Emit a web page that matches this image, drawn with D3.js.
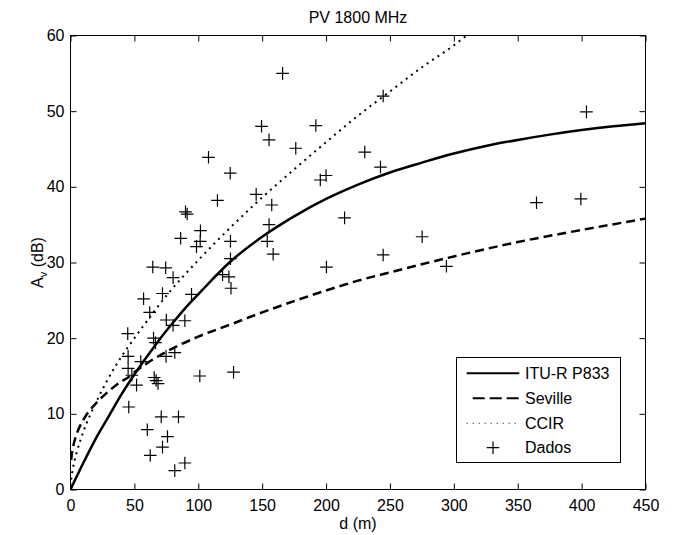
<!DOCTYPE html>
<html>
<head>
<meta charset="utf-8">
<script src="https://cdn.jsdelivr.net/npm/d3@7"></script>
<style>
  html, body { margin: 0; padding: 0; background: #fff; }
  svg { display: block; }
  text { font-family: "Liberation Sans", Arial, sans-serif; fill: #000; }
</style>
</head>
<body>
<svg id="chart" width="675" height="535"></svg>
<script>
// ---- data ----
const title = "PV 1800 MHz";
const xTicks = [0, 50, 100, 150, 200, 250, 300, 350, 400, 450];
const yTicks = [0, 10, 20, 30, 40, 50, 60];
const legendLabels = ["ITU-R P833", "Seville", "CCIR", "Dados"];

const ituD = [0, 10, 20, 30, 40, 50, 60, 70, 80, 90, 100, 125, 150, 175, 200, 225, 250, 275, 300, 325, 350, 375, 400, 425, 450];
const ituA = [0, 3.5, 6.8, 9.7, 12.6, 15.2, 17.6, 19.9, 22.0, 24.0, 25.8, 30.1, 33.4, 36.1, 38.4, 40.3, 41.9, 43.2, 44.4, 45.4, 46.2, 46.9, 47.5, 48.0, 48.4];

const sevD = [0.5, 1, 2, 5, 10, 20, 30, 40, 45, 50, 60, 75, 100, 125, 150, 175, 200, 225, 250, 300, 350, 400, 450];
const sevA = [3.9, 4.6, 5.6, 7.4, 9.2, 11.4, 13.0, 14.3, 14.8, 15.5, 16.7, 18.2, 20.2, 21.8, 23.4, 24.9, 26.3, 27.6, 28.7, 30.8, 32.7, 34.3, 35.8];

const ccirD = [0.5, 1, 2, 5, 10, 20, 30, 40, 50, 60, 75, 100, 125, 150, 175, 200, 225, 250, 275, 300, 310];
const ccirA = [1.3, 1.9, 2.9, 5.0, 7.6, 11.5, 14.8, 17.6, 20.0, 22.3, 25.6, 30.3, 34.6, 38.6, 42.3, 45.9, 49.4, 52.6, 55.8, 58.7, 60.0];

const dadosD = [166, 149.5, 192, 155.4, 176.3, 108, 125, 195.5, 200, 145.3, 115, 157.5, 214.5, 90, 91.3, 155.4, 86.2, 101.7, 101.5, 98.6,
                125.2, 154, 158.6, 125.2, 200.3, 64.4, 74.5, 80.3, 119, 124, 125.6, 57.2, 72, 94.7, 62, 44.8, 65, 66.5, 75, 89.5,
                80.3, 45.1, 74.8, 81.6, 45.1, 55, 48, 51.7, 65.5, 67, 68.5, 101.2, 127.6, 45.6, 71, 84.5, 60.1, 75.9, 72, 62.4,
                89.5, 81.6, 244.7, 230.3, 242.6, 403.8, 364.7, 399.4, 275.2, 244.7, 294.2];
const dadosA = [55.0, 48.0, 48.1, 46.2, 45.1, 43.9, 41.8, 40.9, 41.5, 39.0, 38.2, 37.6, 35.9, 36.7, 36.4, 35.0, 33.2, 34.2, 32.8, 32.1,
                32.8, 32.8, 31.1, 30.5, 29.4, 29.4, 29.3, 28.0, 28.4, 28.1, 26.6, 25.2, 25.9, 25.8, 23.4, 20.6, 20.0, 19.4, 22.4, 22.3,
                21.7, 17.6, 17.6, 18.1, 16.0, 16.9, 15.1, 13.8, 14.8, 14.4, 14.0, 15.0, 15.5, 10.9, 9.6, 9.6, 7.9, 7.0, 5.6, 4.5,
                3.5, 2.5, 52.0, 44.6, 42.6, 49.9, 37.9, 38.4, 33.4, 31.0, 29.5];

// ---- layout ----
const svg = d3.select("#chart");
const L = 70.5, R = 645.5, T = 35.5, B = 489.5;
const x = d3.scaleLinear().domain([0, 450]).range([L, R]);
const y = d3.scaleLinear().domain([0, 60]).range([B, T]);
const FS = 16;

svg.append("rect").attr("width", 675).attr("height", 535).attr("fill", "#fff");

svg.append("defs").append("clipPath").attr("id", "plotclip")
  .append("rect").attr("x", L).attr("y", T).attr("width", R - L).attr("height", B - T);

// axes
const ax = (g) => { g.select(".domain").remove(); g.selectAll("line").attr("stroke", "#000"); g.selectAll("text").attr("font-size", FS).attr("font-family", '"Liberation Sans", Arial, sans-serif'); };

svg.append("g").attr("transform", `translate(0,${B})`)
  .call(d3.axisBottom(x).tickValues(xTicks).tickSizeInner(-6).tickSizeOuter(0).tickPadding(10).tickFormat(d3.format("d")))
  .call(ax);
svg.append("g").attr("transform", `translate(0,${T})`)
  .call(d3.axisTop(x).tickValues(xTicks).tickSizeInner(-6).tickSizeOuter(0).tickFormat(""))
  .call(ax);
svg.append("g").attr("transform", `translate(${L},0)`)
  .call(d3.axisLeft(y).tickValues(yTicks).tickSizeInner(-6).tickSizeOuter(0).tickPadding(6).tickFormat(d3.format("d")))
  .call(ax);
svg.append("g").attr("transform", `translate(${R},0)`)
  .call(d3.axisRight(y).tickValues(yTicks).tickSizeInner(-6).tickSizeOuter(0).tickFormat(""))
  .call(ax);

// lines
const plot = svg.append("g").attr("clip-path", "url(#plotclip)");
const line = d3.line().x(d => x(d[0])).y(d => y(d[1])).curve(d3.curveMonotoneX);

plot.append("path").datum(d3.zip(ituD, ituA)).attr("d", line)
  .attr("fill", "none").attr("stroke", "#000").attr("stroke-width", 2.5);
plot.append("path").datum(d3.zip(sevD, sevA)).attr("d", line)
  .attr("fill", "none").attr("stroke", "#000").attr("stroke-width", 2.5).attr("stroke-dasharray", "9,5");
plot.append("path").datum(d3.zip(ccirD, ccirA)).attr("d", line)
  .attr("fill", "none").attr("stroke", "#000").attr("stroke-width", 2).attr("stroke-dasharray", "2,4.5");

// markers
const plus = (g, cx, cy, h) => {
  g.append("path").attr("d", `M${cx - h},${cy}H${cx + h}M${cx},${cy - h}V${cy + h}`)
    .attr("stroke", "#000").attr("stroke-width", 1.2).attr("fill", "none");
};
const mk = plot.append("g");
d3.zip(dadosD, dadosA).forEach(([d, a]) => plus(mk, x(d), y(a), 6.3));

// frame
svg.append("rect").attr("x", L).attr("y", T).attr("width", R - L).attr("height", B - T)
  .attr("fill", "none").attr("stroke", "#000").attr("stroke-width", 1);

// title & labels
svg.append("text").attr("x", (L + R) / 2).attr("y", 23).attr("text-anchor", "middle")
  .attr("font-size", FS).text(title);
svg.append("text").attr("x", (L + R) / 2).attr("y", 529).attr("text-anchor", "middle")
  .attr("font-size", FS).text("d (m)");
const yl = svg.append("text").attr("transform", `translate(43,${(T + B) / 2}) rotate(-90)`)
  .attr("text-anchor", "middle").attr("font-size", FS);
yl.append("tspan").text("A");
yl.append("tspan").attr("font-size", 11).attr("dy", 4).text("v");
yl.append("tspan").attr("dy", -4).text(" (dB)");

// legend
const lg = svg.append("g");
lg.append("rect").attr("x", 456.5).attr("y", 357.5).attr("width", 164).attr("height", 105)
  .attr("fill", "#fff").attr("stroke", "#000").attr("stroke-width", 1);
const rows = [373.3, 398.3, 423.3, 447.7];
const lx0 = 466.7, lx1 = 519.3;
lg.append("line").attr("x1", lx0).attr("x2", lx1).attr("y1", rows[0]).attr("y2", rows[0])
  .attr("stroke", "#000").attr("stroke-width", 2);
lg.append("line").attr("x1", lx0 + 6).attr("x2", lx1).attr("y1", rows[1]).attr("y2", rows[1])
  .attr("stroke", "#000").attr("stroke-width", 2).attr("stroke-dasharray", "12,5");
lg.append("line").attr("x1", lx0).attr("x2", lx1).attr("y1", rows[2]).attr("y2", rows[2])
  .attr("stroke", "#000").attr("stroke-width", 1).attr("stroke-dasharray", "1,5");
plus(lg, (lx0 + lx1) / 2, rows[3], 6.3);
legendLabels.forEach((t, i) => {
  lg.append("text").attr("x", 525).attr("y", rows[i]).attr("dy", "0.36em")
    .attr("font-size", FS).text(t);
});
</script>
</body>
</html>
